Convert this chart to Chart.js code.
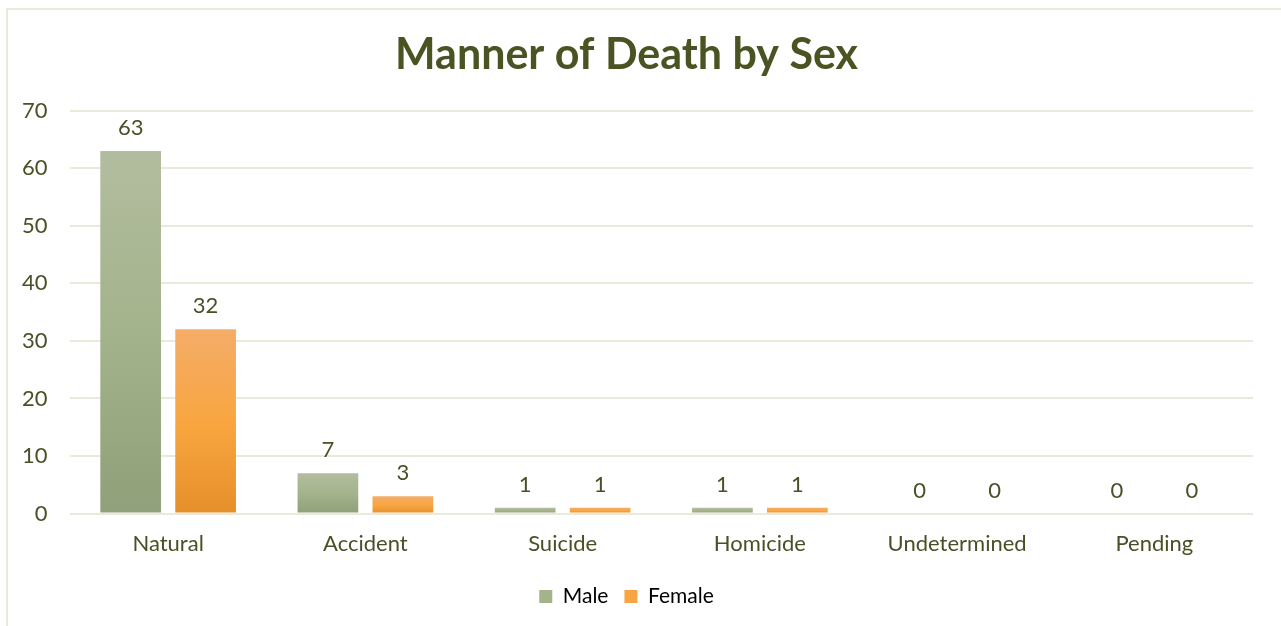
<!DOCTYPE html>
<html>
<head>
<meta charset="utf-8">
<script src="https://cdn.jsdelivr.net/npm/chart.js@4/dist/chart.umd.min.js"></script>
<style>
  html, body { margin: 0; padding: 0; background: #fff; }
  #wrap { position: relative; width: 1281px; height: 626px; overflow: hidden; }
  #frame { position: absolute; left: 6px; top: 8px; width: 1300px; height: 700px; border: 2px solid #e9ebda; box-sizing: border-box; }
  #chart { position: absolute; left: 0; top: 0; }
</style>
</head>
<body>
<div id="wrap">
  <div id="frame"></div>
  <canvas id="chart" width="1281" height="626"></canvas>
</div>
<script>
'use strict';

var categories = ['Natural', 'Accident', 'Suicide', 'Homicide', 'Undetermined', 'Pending'];
var maleValues = [63, 7, 1, 1, 0, 0];
var femaleValues = [32, 3, 1, 1, 0, 0];
var yTicks = [0, 10, 20, 30, 40, 50, 60, 70];

var textColor = '#4a5026';
var fontFamily = 'Lato, "Open Sans", sans-serif';

// vertical gradient per bar, from the bar top down to the zero line
function barGradient(ctx, top, mid, bottom) {
  var chart = ctx.chart;
  var yScale = chart.scales.y;
  if (!chart.chartArea || !yScale || ctx.type !== 'data') return mid;
  var y0 = yScale.getPixelForValue(ctx.raw);
  var y1 = yScale.getPixelForValue(0);
  if (!(y1 - y0 > 0.5)) return mid;
  var g = chart.ctx.createLinearGradient(0, y0, 0, y1);
  g.addColorStop(0, top);
  g.addColorStop(0.5, mid);
  g.addColorStop(1, bottom);
  return g;
}

// draws the numbers above the bars
var valueLabels = {
  id: 'valueLabels',
  afterDatasetsDraw: function (chart) {
    var c = chart.ctx;
    c.save();
    c.font = '22px ' + fontFamily;
    c.fillStyle = textColor;
    c.textAlign = 'center';
    c.textBaseline = 'bottom';
    chart.data.datasets.forEach(function (ds, i) {
      chart.getDatasetMeta(i).data.forEach(function (bar, j) {
        c.fillText(String(ds.data[j]), bar.x, bar.y - 12);
      });
    });
    c.restore();
  }
};

new Chart(document.getElementById('chart'), {
  type: 'bar',
  data: {
    labels: categories,
    datasets: [{
      label: 'Male',
      data: maleValues,
      backgroundColor: function (ctx) { return barGradient(ctx, '#b2bd9f', '#a3b38b', '#8fa07a'); }
    }, {
      label: 'Female',
      data: femaleValues,
      backgroundColor: function (ctx) { return barGradient(ctx, '#f4ad68', '#f9a641', '#e58f2a'); }
    }]
  },
  options: {
    responsive: false,
    animation: false,
    categoryPercentage: 0.76,
    barPercentage: 0.81,
    layout: { padding: { top: 25, right: 28, left: 0, bottom: 9 } },
    plugins: {
      title: {
        display: true,
        text: 'Manner of Death by Sex',
        color: '#4a5322',
        font: { family: fontFamily, size: 43, weight: 'bold' },
        padding: { top: 4, bottom: 30 }
      },
      legend: {
        position: 'bottom',
        labels: {
          color: textColor,
          font: { family: fontFamily, size: 21 },
          boxWidth: 13,
          boxHeight: 13,
          padding: 16,
          generateLabels: function (chart) {
            return [
              { text: 'Male', fillStyle: '#a3b38b', strokeStyle: '#a3b38b', lineWidth: 0, datasetIndex: 0 },
              { text: 'Female', fillStyle: '#f7a444', strokeStyle: '#f7a444', lineWidth: 0, datasetIndex: 1 }
            ];
          }
        }
      },
      tooltip: { enabled: false }
    },
    scales: {
      x: {
        grid: { display: false },
        border: { display: false },
        ticks: { color: textColor, font: { family: fontFamily, size: 22 }, padding: 9 },
        afterFit: function (axis) { axis.height += 4; }
      },
      y: {
        min: yTicks[0],
        max: yTicks[yTicks.length - 1],
        afterBuildTicks: function (axis) {
          axis.ticks = yTicks.map(function (v) { return { value: v }; });
        },
        grid: { color: '#e9ebda', lineWidth: 2, drawTicks: false },
        border: { display: false },
        ticks: { color: textColor, font: { family: fontFamily, size: 22 }, padding: 22 }
      }
    }
  },
  plugins: [valueLabels]
});
</script>
</body>
</html>
